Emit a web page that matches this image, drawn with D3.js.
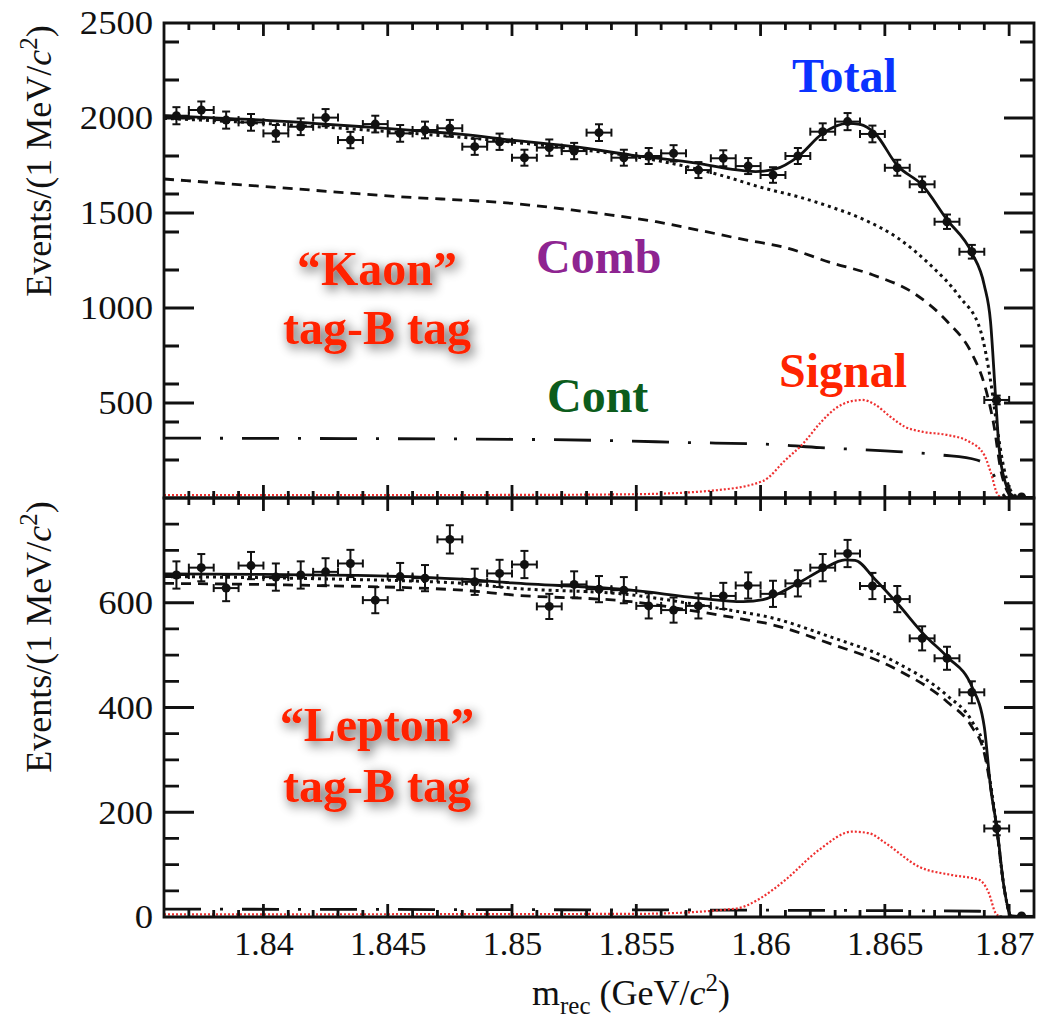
<!DOCTYPE html>
<html>
<head>
<meta charset="utf-8">
<script src="https://cdn.jsdelivr.net/npm/d3@7"></script>
<style>
  body { margin: 0; background: #fff; }
  text { font-family: "Liberation Serif", "DejaVu Serif", serif; fill: #111; }
  .ticklabel text { font-size: 34px; fill: #111; }
  .note { font-size: 48px; font-weight: bold; }
  .axistitle { font-size: 36px; }
</style>
</head>
<body>
<div id="chart"></div>
<script>
// bin centres (1 MeV bins)
var binCenters = [1.8365, 1.8375, 1.8385, 1.8395, 1.8405, 1.8415, 1.8425, 1.8435, 1.8445, 1.8455,
  1.8465, 1.8475, 1.8485, 1.8495, 1.8505, 1.8515, 1.8525, 1.8535, 1.8545, 1.8555,
  1.8565, 1.8575, 1.8585, 1.8595, 1.8605, 1.8615, 1.8625, 1.8635, 1.8645, 1.8655,
  1.8665, 1.8675, 1.8685, 1.8695, 1.8705];

var kaonCounts = [2012, 2042, 1989, 1977, 1919, 1954, 2002, 1884, 1968, 1919,
  1937, 1946, 1849, 1875, 1791, 1844, 1826, 1923, 1791, 1800,
  1814, 1726, 1788, 1747, 1700, 1800, 1928, 1981, 1916, 1738,
  1651, 1454, 1296, 516, 5];
var kaonErrors = [45, 45, 45, 44, 44, 44, 45, 43, 44, 44,
  44, 44, 43, 43, 42, 43, 43, 44, 42, 42,
  43, 42, 42, 42, 41, 42, 44, 45, 44, 42,
  41, 38, 36, 23, 2];

var leptonCounts = [653, 667, 628, 671, 649, 653, 659, 675, 605, 650,
  647, 721, 640, 656, 673, 593, 635, 626, 624, 594,
  586, 594, 613, 633, 617, 637, 667, 694, 632, 607,
  532, 494, 429, 169, 2];
var leptonErrors = [26, 26, 25, 26, 26, 26, 26, 26, 25, 26,
  25, 27, 25, 26, 26, 24, 25, 25, 25, 24,
  24, 24, 25, 25, 25, 25, 26, 26, 25, 25,
  23, 22, 21, 13, 1];

// fit curves, [m, events]
var kaonTotal = [[1.836, 2012], [1.838, 2001], [1.840, 1989], [1.842, 1972], [1.844, 1954], [1.846, 1935],
  [1.848, 1914], [1.850, 1884], [1.8525, 1849], [1.8548, 1805], [1.8575, 1761], [1.8588, 1731],
  [1.8598, 1718], [1.8606, 1732], [1.8615, 1796], [1.8625, 1919], [1.8635, 1972], [1.8640, 1966],
  [1.8646, 1919], [1.8655, 1750], [1.8665, 1647], [1.8675, 1465], [1.8685, 1290], [1.8690, 1120],
  [1.86925, 930], [1.86945, 540], [1.86959, 270], [1.86985, 80], [1.87015, 12], [1.8705, 0], [1.871, 0]];
var kaonBkg = [[1.836, 1998], [1.840, 1972], [1.844, 1938], [1.848, 1898], [1.852, 1845], [1.855, 1795],
  [1.857, 1745], [1.8585, 1695], [1.8601, 1632], [1.8615, 1586], [1.8628, 1533], [1.8642, 1463],
  [1.8655, 1370], [1.8668, 1230], [1.8680, 1060], [1.86885, 880], [1.86925, 620], [1.86952, 367],
  [1.86979, 156], [1.87013, 26], [1.8705, 0], [1.871, 0]];
var kaonComb = [[1.836, 1679], [1.840, 1640], [1.845, 1590], [1.8507, 1542], [1.8524, 1516], [1.8540, 1489],
  [1.8558, 1454], [1.8575, 1410], [1.8593, 1361], [1.8610, 1318], [1.8628, 1240], [1.8645, 1175],
  [1.8662, 1075], [1.8675, 930], [1.8685, 760], [1.8690, 600], [1.86939, 380], [1.86966, 150],
  [1.86995, 30], [1.8702, 0], [1.871, 0]];
var kaonCont = [[1.836, 315], [1.845, 312], [1.850, 309], [1.854, 302], [1.857, 292], [1.8604, 282],
  [1.8624, 265], [1.865, 248], [1.8673, 226], [1.8687, 200], [1.8693, 139], [1.86975, 20],
  [1.8699, 0], [1.871, 0]];
var kaonSignal = [[1.836, 15], [1.850, 16], [1.855, 20], [1.8583, 42], [1.8601, 90], [1.8610, 200],
  [1.8617, 285], [1.8624, 395], [1.8630, 470], [1.8636, 508], [1.8641, 516], [1.8646, 492],
  [1.8652, 430], [1.8658, 375], [1.8665, 349], [1.8675, 332], [1.8684, 296], [1.8690, 226],
  [1.86925, 139], [1.86955, 16], [1.8698, 0], [1.871, 0]];

var leptonTotal = [[1.836, 655], [1.840, 654], [1.845, 651], [1.848, 645], [1.850, 638], [1.8548, 624],
  [1.8575, 609], [1.8593, 602], [1.8601, 606], [1.8615, 637], [1.8625, 664], [1.8634, 682],
  [1.8638, 681], [1.8646, 645], [1.8655, 599], [1.8666, 538], [1.8675, 497], [1.8685, 440],
  [1.8690, 363], [1.86925, 249], [1.86952, 166], [1.86979, 58], [1.8701, 2], [1.871, 0]];
var leptonBkg = [[1.836, 650], [1.842, 646], [1.848, 637], [1.850, 628], [1.8548, 615], [1.8575, 596],
  [1.8595, 580], [1.8601, 575], [1.8628, 535], [1.8655, 485], [1.8675, 423], [1.8685, 374],
  [1.8690, 322], [1.86925, 255], [1.86952, 163], [1.86979, 58], [1.8701, 0], [1.871, 0]];
var leptonComb = [[1.836, 637], [1.842, 633], [1.848, 624], [1.850, 615], [1.8548, 602], [1.8575, 583],
  [1.8595, 567], [1.8601, 562], [1.8628, 522], [1.8655, 472], [1.8675, 411], [1.8685, 363],
  [1.8690, 313], [1.86925, 249], [1.86952, 160], [1.86979, 58], [1.8701, 0], [1.871, 0]];
var leptonCont = [[1.836, 15], [1.850, 14], [1.860, 13], [1.8688, 11], [1.8694, 4], [1.8697, 0], [1.871, 0]];
var leptonSignal = [[1.836, 5], [1.855, 6], [1.859, 16], [1.8600, 36], [1.8610, 71], [1.86235, 128],
  [1.86369, 163], [1.86436, 160], [1.86503, 141], [1.86637, 96], [1.86771, 80], [1.86879, 71],
  [1.86919, 45], [1.86946, 7], [1.8697, 0], [1.871, 0]];

var xTicks = [1.84, 1.845, 1.85, 1.855, 1.86, 1.865, 1.87];
var kaonYTicks = [500, 1000, 1500, 2000, 2500];
var leptonYTicks = [0, 200, 400, 600];

var W = 1039, H = 1026;
var left = 164, right = 1034;

var svg = d3.select("#chart").append("svg")
  .attr("width", W)
  .attr("height", H);

var defs = svg.append("defs");
var shadow = defs.append("filter")
  .attr("id", "glow")
  .attr("x", "-20%").attr("y", "-50%")
  .attr("width", "140%").attr("height", "200%");
shadow.append("feGaussianBlur").attr("in", "SourceAlpha").attr("stdDeviation", 6);
shadow.append("feOffset").attr("dx", 3).attr("dy", 4).attr("result", "blur");
shadow.append("feComponentTransfer").append("feFuncA").attr("type", "linear").attr("slope", 0.7);
var merge = shadow.append("feMerge");
merge.append("feMergeNode");
merge.append("feMergeNode").attr("in", "SourceGraphic");

var x = d3.scaleLinear()
  .domain([1.836, 1.871])
  .range([left, right]);

var styles = {
  total: { color: "#111", dash: null, width: 2.8 },
  bkg: { color: "#111", dash: "3,4", width: 3 },
  comb: { color: "#111", dash: "10,7", width: 2.8 },
  cont: { color: "#111", dash: "37,19,3,19", width: 2.8 },
  signal: { color: "#ee3030", dash: "2,2", width: 2.2 }
};

function drawPanel(cfg) {
  var y = d3.scaleLinear()
    .domain(cfg.yDomain)
    .range([cfg.bottom, cfg.top]);

  var g = svg.append("g");

  g.append("clipPath")
    .attr("id", cfg.id + "-clip")
    .append("rect")
    .attr("x", left)
    .attr("y", cfg.top)
    .attr("width", right - left)
    .attr("height", cfg.bottom - cfg.top);

  var plot = g.append("g").attr("clip-path", "url(#" + cfg.id + "-clip)");

  var line = d3.line()
    .x(function(d) { return x(d[0]); })
    .y(function(d) { return y(d[1]); })
    .curve(d3.curveMonotoneX);

  cfg.curves.forEach(function(c) {
    var s = styles[c.kind];
    plot.append("path")
      .datum(c.data)
      .attr("fill", "none")
      .attr("stroke", s.color)
      .attr("stroke-width", s.width)
      .attr("stroke-dasharray", s.dash)
      .attr("d", line);
  });

  // data points with error bars
  var pts = plot.selectAll(".pt")
    .data(binCenters.map(function(m, i) { return { m: m, v: cfg.counts[i], e: cfg.errors[i] }; }))
    .enter().append("g")
    .attr("class", "pt")
    .attr("stroke", "#111")
    .attr("stroke-width", 2);

  pts.append("line")
    .attr("x1", function(d) { return x(d.m); })
    .attr("x2", function(d) { return x(d.m); })
    .attr("y1", function(d) { return y(d.v - d.e); })
    .attr("y2", function(d) { return y(d.v + d.e); });
  pts.append("line")
    .attr("x1", function(d) { return x(d.m - 0.0005); })
    .attr("x2", function(d) { return x(d.m + 0.0005); })
    .attr("y1", function(d) { return y(d.v); })
    .attr("y2", function(d) { return y(d.v); });
  [-1, 1].forEach(function(s) {
    pts.append("line")
      .attr("x1", function(d) { return x(d.m) - 4; })
      .attr("x2", function(d) { return x(d.m) + 4; })
      .attr("y1", function(d) { return y(d.v + s * d.e); })
      .attr("y2", function(d) { return y(d.v + s * d.e); });
    pts.append("line")
      .attr("x1", function(d) { return x(d.m + s * 0.0005); })
      .attr("x2", function(d) { return x(d.m + s * 0.0005); })
      .attr("y1", function(d) { return y(d.v) - 4; })
      .attr("y2", function(d) { return y(d.v) + 4; });
  });
  pts.append("circle")
    .attr("cx", function(d) { return x(d.m); })
    .attr("cy", function(d) { return y(d.v); })
    .attr("r", 4.5)
    .attr("fill", "#111")
    .attr("stroke", "none");

  // tick labels
  var yl = g.append("g")
    .attr("class", "ticklabel")
    .attr("transform", "translate(" + left + ",0)")
    .call(d3.axisLeft(y).tickValues(cfg.yLabels).tickSize(0).tickPadding(10).tickFormat(String));
  yl.select(".domain").remove();
  yl.selectAll("line").remove();
  yl.selectAll("text").attr("transform", "scale(1.08,1)");

  if (cfg.showX) {
    var xl = g.append("g")
      .attr("class", "ticklabel")
      .attr("transform", "translate(0," + cfg.bottom + ")")
      .call(d3.axisBottom(x).tickValues(xTicks).tickSize(0).tickPadding(14).tickFormat(String));
    xl.select(".domain").remove();
    xl.selectAll("line").remove();
    xl.selectAll("text").attr("dx", function(d) { return d === 1.87 ? -5 : 0; });
  }

  // frame and inward ticks as one path, positions from the scales
  var xMinor = x.ticks(35);
  var yMinor = y.ticks(cfg.minorCount);
  var p = d3.path();
  p.moveTo(left, cfg.top);
  p.lineTo(right, cfg.top);
  p.lineTo(right, cfg.bottom);
  p.lineTo(left, cfg.bottom);
  p.closePath();
  function ySegs(vals, edge, len) {
    vals.forEach(function(v) {
      p.moveTo(edge, y(v));
      p.lineTo(edge + len, y(v));
    });
  }
  function xSegs(vals, edge, len) {
    vals.forEach(function(v) {
      p.moveTo(x(v), edge);
      p.lineTo(x(v), edge + len);
    });
  }
  ySegs(yMinor, left, 15);
  ySegs(cfg.yMajor, left, 30);
  ySegs(yMinor, right, -14);
  ySegs(cfg.yMajor, right, -30);
  xSegs(xMinor, cfg.top, 7);
  xSegs(xTicks, cfg.top, 13);
  xSegs(xMinor, cfg.bottom, -7);
  xSegs(xTicks, cfg.bottom, -13);

  g.append("path")
    .attr("d", p.toString())
    .attr("fill", "none")
    .attr("stroke", "#111")
    .attr("stroke-width", 2.8);

  // y axis title
  var yt = g.append("text")
    .attr("class", "axistitle")
    .attr("text-anchor", "middle")
    .attr("transform", "translate(51," + cfg.titleY + ") rotate(-90)");
  yt.append("tspan").text("Events/(1 MeV/");
  yt.append("tspan").attr("font-style", "italic").text("c");
  yt.append("tspan").attr("font-size", "25px").attr("dy", -14).text("2");
  yt.append("tspan").attr("dy", 14).text(")");

  return y;
}

drawPanel({
  id: "kaon", top: 23, bottom: 498,
  yDomain: [0, 2500], yMajor: [0, 500, 1000, 1500, 2000, 2500], yLabels: kaonYTicks, minorCount: 10,
  counts: kaonCounts, errors: kaonErrors, showX: false, titleY: 161,
  curves: [
    { kind: "cont", data: kaonCont },
    { kind: "signal", data: kaonSignal },
    { kind: "comb", data: kaonComb },
    { kind: "bkg", data: kaonBkg },
    { kind: "total", data: kaonTotal }
  ]
});

drawPanel({
  id: "lepton", top: 498, bottom: 917,
  yDomain: [0, 800], yMajor: [0, 200, 400, 600, 800], yLabels: leptonYTicks, minorCount: 16,
  counts: leptonCounts, errors: leptonErrors, showX: true, titleY: 637,
  curves: [
    { kind: "cont", data: leptonCont },
    { kind: "signal", data: leptonSignal },
    { kind: "comb", data: leptonComb },
    { kind: "bkg", data: leptonBkg },
    { kind: "total", data: leptonTotal }
  ]
});

// x axis title
var xt = svg.append("text")
  .attr("class", "axistitle")
  .attr("x", 532)
  .attr("y", 1005);
xt.append("tspan").text("m");
xt.append("tspan").attr("font-size", "25px").attr("dy", 9).text("rec");
xt.append("tspan").attr("dy", -9).text("\u00a0(GeV/");
xt.append("tspan").attr("font-style", "italic").text("c");
xt.append("tspan").attr("font-size", "25px").attr("dy", -14).text("2");
xt.append("tspan").attr("dy", 14).text(")");

// component labels
var notes = [
  { t: "Total", x: 792, y: 92, c: "#0a32ff" },
  { t: "Comb", x: 536, y: 273, c: "#8e2491" },
  { t: "Cont", x: 547, y: 412, c: "#0c5c1c" },
  { t: "Signal", x: 779, y: 387, c: "#ff2400" }
];
svg.selectAll(".note-c")
  .data(notes)
  .enter().append("text")
  .attr("class", "note")
  .attr("x", function(d) { return d.x; })
  .attr("y", function(d) { return d.y; })
  .style("fill", function(d) { return d.c; })
  .text(function(d) { return d.t; });

var tags = [
  { t: "\u201cKaon\u201d", y: 285 },
  { t: "tag-B tag", y: 344 },
  { t: "\u201cLepton\u201d", y: 741 },
  { t: "tag-B tag", y: 802 }
];
svg.selectAll(".tag")
  .data(tags)
  .enter().append("text")
  .attr("class", "note")
  .attr("text-anchor", "middle")
  .attr("x", 377)
  .attr("y", function(d) { return d.y; })
  .attr("filter", "url(#glow)")
  .style("fill", "#ff2400")
  .text(function(d) { return d.t; });
</script>
</body>
</html>
